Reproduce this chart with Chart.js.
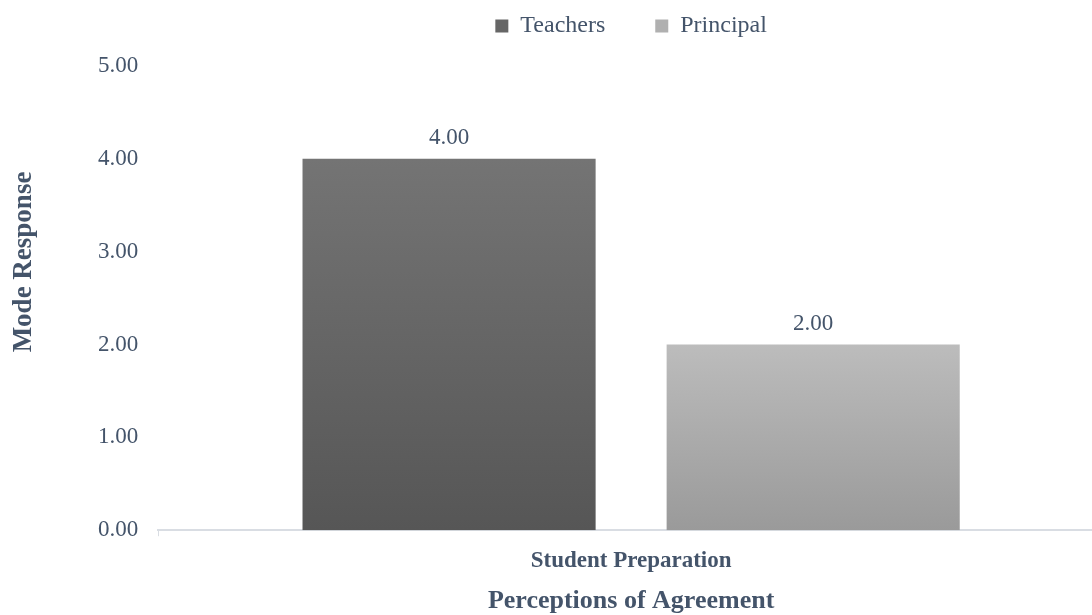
<!DOCTYPE html>
<html>
<head>
<meta charset="utf-8">
<script src="https://cdn.jsdelivr.net/npm/chart.js@4.4.1/dist/chart.umd.min.js"></script>
<style>
  html, body { margin: 0; padding: 0; background: #fff; overflow: hidden; }
  /* plot runs a little past the right edge, as in the original */
  #wrap { width: 1104px; height: 615px; }
</style>
</head>
<body>
<div id="wrap"><canvas id="modeChart"></canvas></div>
<script>
// Mode response by group, one category
var categories = ["Student Preparation"];
var teachers = [4.00];
var principal = [2.00];
var yTicks = ["0.00", "1.00", "2.00", "3.00", "4.00", "5.00"];

var textColor = '#44546A';
var serif = "'Liberation Serif', 'Times New Roman', serif";

// vertical gradient spanning each bar, from its top down to zero
function barGradient(top, bottom) {
  return function(ctx) {
    var chart = ctx.chart;
    var y = chart.scales.y;
    if (!y || !chart.chartArea) return bottom;
    var v = ctx.raw == null ? 0 : ctx.raw;
    var g = chart.ctx.createLinearGradient(0, y.getPixelForValue(v), 0, y.getPixelForValue(0));
    g.addColorStop(0, top);
    g.addColorStop(1, bottom);
    return g;
  };
}

// value labels above bars + the y axis title (placed like the original, a bit above centre)
var extras = {
  id: 'extras',
  beforeInit: function(chart) {
    // legend padding is wide for item spacing; fix its height by hand
    var fit = chart.legend.fit;
    chart.legend.fit = function() {
      fit.call(this);
      this.height = 102;
    };
  },
  afterDatasetsDraw: function(chart) {
    var c = chart.ctx;
    c.save();
    c.font = '23px ' + serif;
    c.fillStyle = textColor;
    c.textAlign = 'center';
    c.textBaseline = 'bottom';
    chart.data.datasets.forEach(function(ds, i) {
      chart.getDatasetMeta(i).data.forEach(function(bar, j) {
        c.fillText(ds.data[j].toFixed(2), bar.x, bar.y - 9);
      });
    });
    c.translate(24, 262);
    c.rotate(-Math.PI / 2);
    c.font = 'bold 27px ' + serif;
    c.textBaseline = 'middle';
    c.fillText('Mode Response', 0, 0);
    c.restore();
  }
};

new Chart(document.getElementById('modeChart'), {
  type: 'bar',
  data: {
    labels: categories,
    datasets: [{
      label: 'Teachers',
      data: teachers,
      backgroundColor: barGradient('#747474', '#565656'),
      barPercentage: 0.805,
      categoryPercentage: 0.77
    }, {
      label: 'Principal',
      data: principal,
      backgroundColor: barGradient('#bcbcbc', '#9a9a9a'),
      barPercentage: 0.805,
      categoryPercentage: 0.77
    }]
  },
  options: {
    responsive: true,
    maintainAspectRatio: false,
    animation: false,
    layout: { padding: { top: -36, right: 0, left: 86, bottom: -2 } },
    plugins: {
      legend: {
        position: 'top',
        fullSize: false,
        labels: {
          color: textColor,
          font: { family: serif, size: 24 },
          boxWidth: 13,
          boxHeight: 13,
          padding: 50,
          generateLabels: function(chart) {
            var fills = ['#666666', '#b0b0b0'];
            return chart.data.datasets.map(function(ds, i) {
              return { text: ds.label, fillStyle: fills[i], strokeStyle: fills[i], lineWidth: 0, datasetIndex: i, fontColor: textColor };
            });
          }
        }
      },
      tooltip: { enabled: false }
    },
    scales: {
      x: {
        grid: { display: true, drawOnChartArea: false, color: '#D9DDE3', tickLength: 6 },
        border: { color: '#D9DDE3', width: 2 },
        ticks: { color: textColor, font: { family: serif, size: 23, weight: 'bold' }, padding: 11 },
        title: { display: true, text: 'Perceptions of Agreement', color: textColor, font: { family: serif, size: 26, weight: 'bold' }, padding: { top: 0, bottom: 0 } }
      },
      y: {
        min: 0,
        max: 5,
        grid: { display: false },
        border: { display: false },
        ticks: {
          stepSize: 1,
          color: textColor,
          font: { family: serif, size: 23 },
          padding: 12,
          callback: function(v) { return yTicks[v]; }
        }
      }
    }
  },
  plugins: [extras]
});
</script>
</body>
</html>
